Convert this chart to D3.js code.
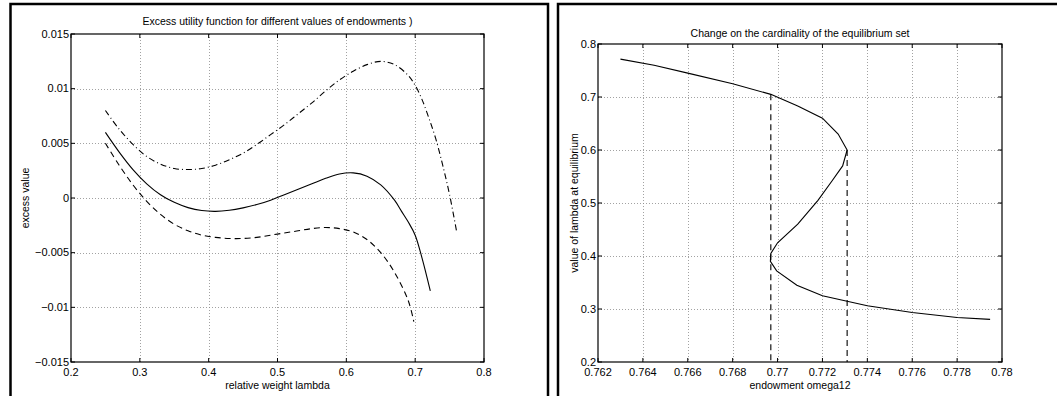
<!DOCTYPE html>
<html>
<head>
<meta charset="utf-8">
<script src="https://cdnjs.cloudflare.com/ajax/libs/d3/7.8.5/d3.min.js"></script>
<style>
  body { margin: 0; background: #fff; }
  svg { display: block; }
  text { font-family: 'Liberation Sans', Arial, Helvetica, sans-serif; fill: #000; }
</style>
</head>
<body>
<div id="chart"></div>
<script>
// left panel: excess utility vs relative weight lambda
const lambdaSolid = [0.25, 0.27, 0.29, 0.31, 0.33, 0.35, 0.37, 0.39, 0.41, 0.43, 0.45, 0.47, 0.49,
  0.51, 0.53, 0.55, 0.57, 0.59, 0.61, 0.63, 0.65, 0.67, 0.68, 0.69, 0.70, 0.71, 0.722];
const excessSolid = [0.0060, 0.0042, 0.0026, 0.0013, 0.0003, -0.0004, -0.00088, -0.00115, -0.00122, -0.00112, -0.0009, -0.0006, -0.0002,
  0.0003, 0.0008, 0.0013, 0.0018, 0.0022, 0.0023, 0.0020, 0.0012, -0.0002, -0.0012, -0.0022, -0.0034, -0.0055, -0.0085];

const lambdaDashed = [0.25, 0.27, 0.29, 0.31, 0.33, 0.35, 0.37, 0.39, 0.41, 0.43, 0.45, 0.47, 0.49,
  0.51, 0.53, 0.55, 0.57, 0.59, 0.61, 0.63, 0.65, 0.67, 0.69, 0.698];
const excessDashed = [0.0050, 0.0030, 0.0012, -0.0003, -0.0015, -0.0024, -0.0030, -0.0034, -0.0036, -0.0037, -0.0037, -0.0036, -0.0034,
  -0.0032, -0.0030, -0.0028, -0.0027, -0.0028, -0.0031, -0.0038, -0.0050, -0.0068, -0.0094, -0.0113];

const lambdaDashDot = [0.25, 0.27, 0.29, 0.31, 0.33, 0.35, 0.37, 0.39, 0.41, 0.43, 0.45, 0.47, 0.49,
  0.51, 0.53, 0.55, 0.57, 0.59, 0.61, 0.63, 0.65, 0.67, 0.69, 0.70, 0.71, 0.72, 0.73, 0.74, 0.75, 0.76];
const excessDashDot = [0.0080, 0.0063, 0.0049, 0.0038, 0.0031, 0.0027, 0.0026, 0.0027, 0.0030, 0.0035, 0.0041, 0.0049, 0.0058,
  0.0067, 0.0077, 0.0087, 0.0098, 0.0108, 0.0116, 0.0122, 0.0125, 0.0122, 0.0112, 0.0103, 0.0090, 0.0073, 0.0054, 0.0030, 0.0003, -0.0030];

const leftXTicks = [0.2, 0.3, 0.4, 0.5, 0.6, 0.7, 0.8];
const leftXTickLabels = ['0.2', '0.3', '0.4', '0.5', '0.6', '0.7', '0.8'];
const leftYTicks = [-0.015, -0.01, -0.005, 0, 0.005, 0.01, 0.015];
const leftYTickLabels = ['\u22120.015', '\u22120.01', '\u22120.005', '0', '0.005', '0.01', '0.015'];

// right panel: equilibrium lambda vs endowment omega12
const lambdaEq = [0.7715, 0.760, 0.745, 0.725, 0.705, 0.683, 0.660, 0.630, 0.600, 0.570, 0.540, 0.505,
  0.460, 0.425, 0.405, 0.390, 0.372, 0.345, 0.325, 0.306, 0.2935, 0.284, 0.2805];
const omegaEq = [0.7630, 0.7645, 0.7660, 0.7680, 0.7697, 0.7709, 0.7720, 0.7727, 0.7731, 0.7729, 0.7724, 0.7718,
  0.7709, 0.7700, 0.76970, 0.76968, 0.76996, 0.77086, 0.7720, 0.7740, 0.7760, 0.7780, 0.77947];

const foldOmega = [0.7697, 0.7731];
const foldLambdaTop = [0.705, 0.600];

const rightXTicks = [0.762, 0.764, 0.766, 0.768, 0.770, 0.772, 0.774, 0.776, 0.778, 0.780];
const rightXTickLabels = ['0.762', '0.764', '0.766', '0.768', '0.77', '0.772', '0.774', '0.776', '0.778', '0.78'];
const rightYTicks = [0.2, 0.3, 0.4, 0.5, 0.6, 0.7, 0.8];
const rightYTickLabels = ['0.2', '0.3', '0.4', '0.5', '0.6', '0.7', '0.8'];

const svg = d3.select('#chart')
  .append('svg')
  .attr('width', 1057)
  .attr('height', 396);

// outer panel frames
svg.append('rect').attr('x', 10.5).attr('y', 4).attr('width', 537.5).attr('height', 450)
  .attr('fill', 'none').attr('stroke', '#000').attr('stroke-width', 2.5);
svg.append('rect').attr('x', 558).attr('y', 4).attr('width', 560).attr('height', 450)
  .attr('fill', 'none').attr('stroke', '#000').attr('stroke-width', 2.5);

function drawAxes(cfg) {
  const x = d3.scaleLinear().domain(cfg.xDomain).range([cfg.left, cfg.right]);
  const y = d3.scaleLinear().domain(cfg.yDomain).range([cfg.bottom, cfg.top]);
  const g = svg.append('g');

  // dotted grid
  g.selectAll('.gx').data(cfg.xTicks.slice(1, -1)).enter().append('line')
    .attr('x1', d => Math.round(x(d)) + 0.5).attr('x2', d => Math.round(x(d)) + 0.5)
    .attr('y1', cfg.top).attr('y2', cfg.bottom)
    .attr('stroke', '#8a8a8a').attr('stroke-width', 0.8).attr('stroke-dasharray', '1,2');
  g.selectAll('.gy').data(cfg.yTicks.slice(1, -1)).enter().append('line')
    .attr('y1', d => Math.round(y(d)) + 0.5).attr('y2', d => Math.round(y(d)) + 0.5)
    .attr('x1', cfg.left).attr('x2', cfg.right)
    .attr('stroke', '#8a8a8a').attr('stroke-width', 0.8).attr('stroke-dasharray', '1,2');

  // inward ticks on all four sides
  const tl = 4;
  cfg.xTicks.forEach(t => {
    const px = x(t);
    g.append('line').attr('x1', px).attr('x2', px).attr('y1', cfg.bottom).attr('y2', cfg.bottom - tl).attr('stroke', '#000');
    g.append('line').attr('x1', px).attr('x2', px).attr('y1', cfg.top).attr('y2', cfg.top + tl).attr('stroke', '#000');
  });
  cfg.yTicks.forEach(t => {
    const py = y(t);
    g.append('line').attr('y1', py).attr('y2', py).attr('x1', cfg.left).attr('x2', cfg.left + tl).attr('stroke', '#000');
    g.append('line').attr('y1', py).attr('y2', py).attr('x1', cfg.right).attr('x2', cfg.right - tl).attr('stroke', '#000');
  });

  g.append('rect')
    .attr('x', cfg.left).attr('y', cfg.top)
    .attr('width', cfg.right - cfg.left).attr('height', cfg.bottom - cfg.top)
    .attr('fill', 'none').attr('stroke', '#000').attr('stroke-width', 1.2);

  // tick labels
  g.selectAll('.xl').data(cfg.xTicks).enter().append('text')
    .attr('x', d => x(d)).attr('y', cfg.bottom + 14)
    .attr('text-anchor', 'middle').attr('font-size', 11)
    .text((d, i) => cfg.xTickLabels[i]);
  g.selectAll('.yl').data(cfg.yTicks).enter().append('text')
    .attr('x', cfg.left - 2).attr('y', d => y(d) + 3.5)
    .attr('text-anchor', 'end').attr('font-size', 11)
    .text((d, i) => cfg.yTickLabels[i]);

  // title and axis labels
  g.append('text')
    .attr('x', (cfg.left + cfg.right) / 2).attr('y', cfg.titleY)
    .attr('text-anchor', 'middle').attr('font-size', 10.5)
    .text(cfg.title);
  g.append('text')
    .attr('x', (cfg.left + cfg.right) / 2).attr('y', cfg.bottom + 27)
    .attr('text-anchor', 'middle').attr('font-size', 10.5)
    .text(cfg.xLabel);
  g.append('text')
    .attr('transform', `translate(${cfg.yLabelX}, ${(cfg.top + cfg.bottom) / 2}) rotate(-90)`)
    .attr('text-anchor', 'middle').attr('font-size', 10.5)
    .text(cfg.yLabel);

  return { x, y, g };
}

// left chart
const L = drawAxes({
  xDomain: [0.2, 0.8], yDomain: [-0.015, 0.015],
  left: 71, right: 484, top: 34, bottom: 362,
  xTicks: leftXTicks, xTickLabels: leftXTickLabels,
  yTicks: leftYTicks, yTickLabels: leftYTickLabels,
  title: 'Excess utility function for different values of endowments )', titleY: 25,
  xLabel: 'relative weight lambda', yLabel: 'excess value', yLabelX: 29
});

const lineL = d3.line()
  .x(d => L.x(d[0]))
  .y(d => L.y(d[1]))
  .curve(d3.curveCatmullRom.alpha(0.5));

L.g.append('path')
  .attr('d', lineL(d3.zip(lambdaSolid, excessSolid)))
  .attr('fill', 'none').attr('stroke', '#000').attr('stroke-width', 1.1);
L.g.append('path')
  .attr('d', lineL(d3.zip(lambdaDashed, excessDashed)))
  .attr('fill', 'none').attr('stroke', '#000').attr('stroke-width', 1.1)
  .attr('stroke-dasharray', '6,4');
L.g.append('path')
  .attr('d', lineL(d3.zip(lambdaDashDot, excessDashDot)))
  .attr('fill', 'none').attr('stroke', '#000').attr('stroke-width', 1.1)
  .attr('stroke-dasharray', '6,3,1,3');

// right chart
const R = drawAxes({
  xDomain: [0.762, 0.78], yDomain: [0.2, 0.8],
  left: 598, right: 1002, top: 44, bottom: 362,
  xTicks: rightXTicks, xTickLabels: rightXTickLabels,
  yTicks: rightYTicks, yTickLabels: rightYTickLabels,
  title: 'Change on the cardinality of the equilibrium set', titleY: 37,
  xLabel: 'endowment omega12', yLabel: 'value of lambda at equilibrium', yLabelX: 578
});

// fold points marked by vertical dashed lines
R.g.selectAll('.fold').data(foldOmega).enter().append('line')
  .attr('x1', d => R.x(d)).attr('x2', d => R.x(d))
  .attr('y1', (d, i) => R.y(foldLambdaTop[i])).attr('y2', R.y(0.2))
  .attr('stroke', '#000').attr('stroke-width', 1.1).attr('stroke-dasharray', '6,4');

const lineR = d3.line()
  .x(d => R.x(d[0]))
  .y(d => R.y(d[1]));

R.g.append('path')
  .attr('d', lineR(d3.zip(omegaEq, lambdaEq)))
  .attr('fill', 'none').attr('stroke', '#000').attr('stroke-width', 1.1);
</script>
</body>
</html>
